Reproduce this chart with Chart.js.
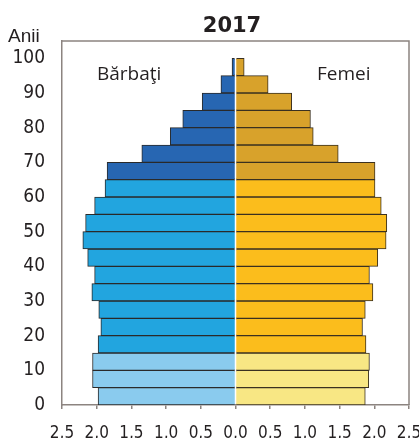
<!DOCTYPE html>
<html>
<head>
<meta charset="utf-8">
<script src="https://cdn.jsdelivr.net/npm/chart.js@4/dist/chart.umd.min.js"></script>
<style>
  html, body { margin: 0; padding: 0; background: #fff; }
  #wrap { width: 419px; height: 438px; }
</style>
</head>
<body>
<div id="wrap"><canvas id="myChart"></canvas></div>
<script>
// age groups, bottom to top (last one is empty, it only pads the axis up to 105)
var ageGroups = ["0-4","5-9","10-14","15-19","20-24","25-29","30-34","35-39","40-44","45-49",
                 "50-54","55-59","60-64","65-69","70-74","75-79","80-84","85-89","90-94","95-99","100+"];

// % of total population
var barbati = [1.98, 2.06, 2.06, 1.98, 1.94, 1.97, 2.07, 2.03, 2.13, 2.20,
               2.16, 2.03, 1.88, 1.85, 1.35, 0.94, 0.76, 0.48, 0.21, 0.05, null];
var femei   = [1.87, 1.92, 1.93, 1.88, 1.83, 1.87, 1.98, 1.93, 2.05, 2.17,
               2.18, 2.10, 2.01, 2.01, 1.48, 1.12, 1.08, 0.81, 0.47, 0.125, null];

var xTicks = [-2.5, -2, -1.5, -1, -0.5, 0, 0.5, 1, 1.5, 2, 2.5];
var yTicks = [0, 10, 20, 30, 40, 50, 60, 70, 80, 90, 100];

var tickFont = '"Liberation Sans Narrow", "Arial Narrow", "DejaVu Sans Condensed", Arial, sans-serif';
var frameColor = "#8c8480";

//colors by broad age group (0-14 / 15-64 / 65+)
function groupColors(young, adult, old) {
	var out = [];
	for (var i = 0; i < ageGroups.length; i++) {
		if (i < 3) out.push(young);
		else if (i < 13) out.push(adult);
		else out.push(old);
	}
	return out;
}

var extraText = {
	id: "extraText",
	afterDraw: function(chart) {
		var ctx = chart.ctx;
		var a = chart.chartArea;
		ctx.save();
		// frame top / right
		ctx.strokeStyle = frameColor;
		ctx.lineWidth = 1.5;
		ctx.beginPath();
		ctx.moveTo(a.left, a.top);
		ctx.lineTo(a.right, a.top);
		ctx.lineTo(a.right, a.bottom);
		ctx.stroke();

		ctx.fillStyle = "#231f20";
		ctx.textBaseline = "alphabetic";
		ctx.textAlign = "center";
		ctx.font = 'bold 21px "DejaVu Sans", sans-serif';
		ctx.fillText("2017", 232, 32);

		ctx.textAlign = "left";
		ctx.font = '19px "Liberation Sans", Arial, sans-serif';
		ctx.fillText("Anii", 8, 42);

		ctx.font = '19px "Open Sans", sans-serif';
		ctx.fillText("Bărbaţi", 97, 80);
		ctx.fillText("Femei", 317, 80);
		ctx.restore();
	}
};

var ctx = document.getElementById("myChart").getContext("2d");
var chart = new Chart(ctx, {
	type: "bar",
	data: {
		labels: ageGroups,
		datasets: [{
			label: "Bărbaţi",
			data: barbati.map(function(v) { return v === null ? null : -v; }),
			backgroundColor: groupColors("#8acbee", "#22a5df", "#2766b2"),
			borderColor: "#2a2a2a",
			borderWidth: 1,
			barPercentage: 1,
			categoryPercentage: 1
		}, {
			label: "Femei",
			data: femei,
			backgroundColor: groupColors("#f8e784", "#fbbd1c", "#d8a22b"),
			borderColor: "#3a3020",
			borderWidth: 1,
			barPercentage: 1,
			categoryPercentage: 1
		}]
	},
	options: {
		indexAxis: "y",
		responsive: true,
		maintainAspectRatio: false,
		animation: false,
		layout: { padding: { top: 41, right: 10, left: 0, bottom: 0 } },
		plugins: {
			legend: { display: false },
			tooltip: { enabled: false }
		},
		scales: {
			x: {
				type: "linear",
				stacked: true,
				min: -2.5,
				max: 2.5,
				afterBuildTicks: function(axis) {
					axis.ticks = xTicks.map(function(v) { return { value: v }; });
				},
				afterFit: function(axis) {
					axis.height = 33;
					axis.paddingLeft = 0;
					axis.paddingRight = 0;
				},
				grid: { drawOnChartArea: false, drawTicks: true, tickLength: 4, color: frameColor, lineWidth: 1.5 },
				border: { color: frameColor, width: 1.5 },
				ticks: {
					padding: 14,
					color: "#231f20",
					font: { family: tickFont, size: 17 },
					maxRotation: 0,
					autoSkip: false,
					callback: function(v) { return Math.abs(v).toFixed(1).replace(".", ","); }
				}
			},
			y: {
				type: "category",
				stacked: true,
				reverse: true,
				display: false
			},
			y2: {
				type: "linear",
				position: "left",
				offset: false,
				min: 0,
				max: 105,
				afterBuildTicks: function(axis) {
					axis.ticks = yTicks.map(function(v) { return { value: v }; });
				},
				afterFit: function(axis) { axis.width = 62; },
				grid: { offset: false, drawOnChartArea: false, drawTicks: false },
				border: { color: frameColor, width: 1.5 },
				ticks: {
					padding: 17,
					color: "#231f20",
					font: { family: tickFont, size: 19 },
					autoSkip: false
				}
			}
		}
	},
	plugins: [extraText]
});
</script>
</body>
</html>
